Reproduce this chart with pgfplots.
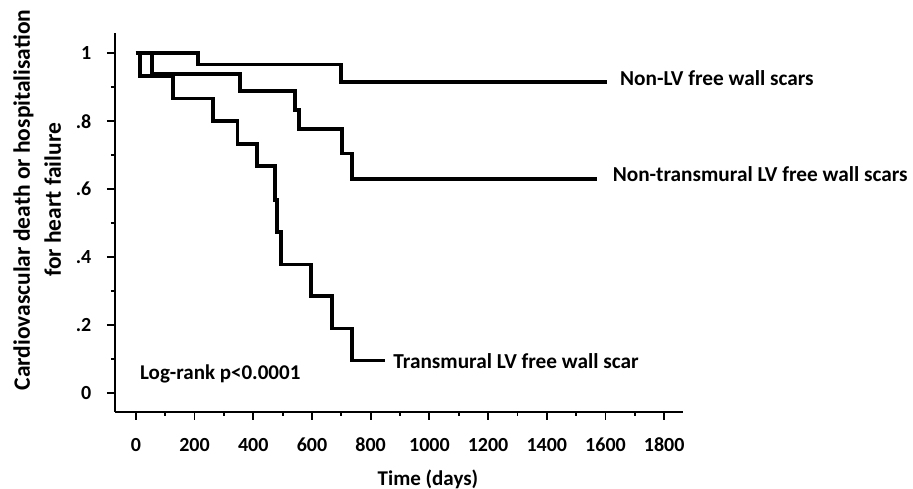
\documentclass[border=0pt]{standalone}
\usepackage{fontspec}
\setmainfont{Carlito}
\usepackage{pgfplots}
\pgfplotsset{compat=1.18}
\begin{document}
\begin{tikzpicture}
\path[use as bounding box] (0,0) rectangle (913pt,489pt);
\begin{axis}[
  at={(115pt,77.3pt)}, anchor=south west,
  scale only axis, width=568pt, height=378.7pt,
  xmin=-71, xmax=1864, ymin=-0.056, ymax=1.06,
  axis x line*=bottom, axis y line*=left,
  axis line style={line width=2pt, -},
  every tick/.style={line width=1.8pt, black},
  tick align=outside,
  major tick length=8pt, minor tick length=4pt,
  xtick={0,200,...,1800}, minor x tick num=1,
  ytick={0,0.2,0.4,0.6,0.8,1}, yticklabels={0,.2,.4,.6,.8,1},
  minor y tick num=1,
  /pgf/number format/assume math mode=true,
  /pgf/number format/1000 sep={},
  ticklabel style={font=\bfseries\fontsize{20}{24}\selectfont, inner sep=0pt},
  xticklabel style={anchor=north, yshift=-18pt},
  yticklabel style={anchor=east, xshift=-15.5pt},
  xlabel={Time (days)},
  xlabel style={font=\bfseries\fontsize{21}{25}\selectfont, at={(axis description cs:0.551,-0.1936)}, anchor=base, inner sep=0pt},
  ylabel={Cardiovascular death or hospitalisation\\for heart failure},
  ylabel style={font=\bfseries\fontsize{23.5}{31}\selectfont, align=center, at={(axis description cs:-0.137,0.559)}, anchor=center, inner sep=0pt},
  clip=false,
]
% Non-LV free wall scars
\addplot[const plot, line width=3.8pt, black] coordinates {
 (0,1) (213,0.967) (698,0.915) (1604,0.915)};
% Non-transmural LV free wall scars
\addplot[const plot, line width=3.8pt, black] coordinates {
 (0,1) (56,0.940) (355,0.889) (542,0.833) (556,0.776) (703,0.705) (737,0.630) (1570,0.630)};
% Transmural LV free wall scar
\addplot[const plot, line width=3.8pt, black] coordinates {
 (0,1) (14,0.933) (127,0.867) (262,0.800) (346,0.733) (412,0.667) (474,0.567) (480,0.473) (495,0.378) (596,0.284) (669,0.189) (737,0.095) (849,0.095)};
\node[anchor=base west, inner sep=0pt, font=\bfseries\fontsize{21.3}{25}\selectfont] at (axis cs:1649,0.904) {Non-LV free wall scars};
\node[anchor=base west, inner sep=0pt, font=\bfseries\fontsize{21.3}{25}\selectfont] at (axis cs:1624,0.621) {Non-transmural LV free wall scars};
\node[anchor=base west, inner sep=0pt, font=\bfseries\fontsize{21.3}{25}\selectfont] at (axis cs:877,0.072) {Transmural LV free wall scar};
\node[anchor=base west, inner sep=0pt, font=\bfseries\fontsize{21}{25}\selectfont] at (axis cs:14,0.040) {Log-rank p<0.0001};
\end{axis}
\end{tikzpicture}
\end{document}
